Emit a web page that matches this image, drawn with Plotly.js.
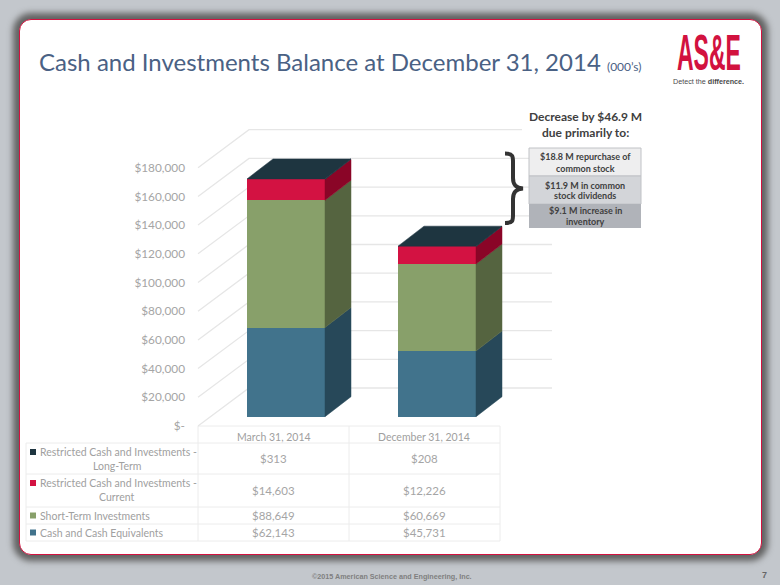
<!DOCTYPE html>
<html><head><meta charset="utf-8">
<script src="https://cdn.plot.ly/plotly-3.0.1.min.js"></script>
<style>
html,body{margin:0;padding:0;width:780px;height:585px;overflow:hidden;background:#c3c7cc}
#card{position:absolute;left:19px;top:19px;width:741px;height:534px;border:1.5px solid #d2123f;border-radius:12px;background:#fff;box-shadow:0 0 6px 6px #626262}
#chart{position:absolute;left:0;top:0;width:780px;height:585px}
</style></head><body>
<div id="card"></div><div id="chart"></div>
<script>
const periods = ["March 31, 2014", "December 31, 2014"];
const seriesNames = ["Cash and Cash Equivalents", "Short-Term Investments", "Restricted Cash and Investments - Current", "Restricted Cash and Investments - Long-Term"];
const cash = [62143, 45731];
const shortTerm = [88649, 60669];
const restrictedCurrent = [14603, 12226];
const restrictedLong = [313, 208];
const tickVals = [0,20000,40000,60000,80000,100000,120000,140000,160000,180000];
const tickText = ["$-","$20,000","$40,000","$60,000","$80,000","$100,000","$120,000","$140,000","$160,000","$180,000"];
const frontColors = ["#41738c","#88a06a","#d31242","#1e3540"];
const sideColors = ["#274859","#556440","#8a0527","#1e3540"];
const W=780,H=585;
const pxPerUnit = 0.001435;
const y0Wall = 426, yBarFront = 416.7;
const rangeAt = y => [(y-H)/pxPerUnit, y/pxPerUnit];
const plotLeft = 190;
const xRange = [(plotLeft-286)/151, (W-286)/151];
const barW = 78/151, depthX = 26/151, depthY = 20/pxPerUnit;
const wallDX = 51/151, wallDY = 38/pxPerUnit;
const wallLeft = (198-286)/151, wallRight = (501-286)/151;
const gridColor = "#e6e6e6";
const traces = [];
tickVals.forEach(v=>{
  traces.push({type:"scatter",mode:"lines",x:[wallLeft,wallLeft+wallDX,wallRight+wallDX],y:[v,v+wallDY,v+wallDY],
    line:{color:gridColor,width:1.3},hoverinfo:"skip",showlegend:false,xaxis:"x",yaxis:"y"});
});
const stacks=[cash,shortTerm,restrictedCurrent,restrictedLong];
[0,1].forEach(i=>{
  let b=0;
  stacks.forEach((s,k)=>{
    const t=b+s[i], r=i+barW/2;
    traces.push({type:"scatter",mode:"lines",x:[r,r+depthX,r+depthX,r,r],y:[b,b+depthY,t+depthY,t,b],fill:"toself",fillcolor:sideColors[k],
      line:{color:sideColors[k],width:0.5},hoverinfo:"skip",showlegend:false,xaxis:"x",yaxis:"y2"});
    b=t;
  });
  const l=i-barW/2,r=i+barW/2;
  traces.push({type:"scatter",mode:"lines",x:[l,r,r+depthX,l+depthX,l],y:[b,b,b+depthY,b+depthY,b],fill:"toself",fillcolor:"#1e3540",
    line:{color:"#1e3540",width:0.5},hoverinfo:"skip",showlegend:false,xaxis:"x",yaxis:"y2"});
});
stacks.forEach((s,k)=>traces.push({type:"bar",x:[0,1],y:s,width:barW,name:seriesNames[k],marker:{color:frontColors[k],line:{width:0}},xaxis:"x",yaxis:"y2",showlegend:false}));

const tableCols=[198,349,500], tableRows=[426,443,474,507,524,541], labelLeft=26;
const rowLabels=[["Restricted Cash and Investments -","Long-Term"],["Restricted Cash and Investments -","Current"],["Short-Term Investments"],["Cash and Cash Equivalents"]];
const rowVals=[restrictedLong,restrictedCurrent,shortTerm,cash];
const rowColors=[frontColors[3],frontColors[2],frontColors[1],frontColors[0]];
const fmt=v=>"$"+v.toLocaleString("en-US");
const shapes=[],ann=[];
const px=x=>x/W, py=y=>1-y/H;
const tline="#ececec";
const L=(x0,y0,x1,y1,c,w)=>shapes.push({type:"line",layer:"below",xref:"paper",yref:"paper",x0:px(x0),x1:px(x1),y0:py(y0),y1:py(y1),line:{color:c,width:w}});
const R=(x0,y0,x1,y1,c,lc)=>shapes.push({type:"rect",xref:"paper",yref:"paper",x0:px(x0),x1:px(x1),y0:py(y0),y1:py(y1),fillcolor:c,line:lc?{color:lc,width:1}:{width:0}});
const T=(x,y,t,o)=>ann.push(Object.assign({xref:"paper",yref:"paper",x:px(x),y:py(y),text:t,showarrow:false,xanchor:"center",yanchor:"middle",font:{family:"Lato",size:10.5,color:"#a0a0a0"}},o||{}));
tableRows.forEach((y,i)=>L(i==0?198:labelLeft,y,500,y,tline,1));
tableCols.forEach(x=>L(x,426,x,541,tline,1));
L(labelLeft,443,labelLeft,541,tline,1);
periods.forEach((p,i)=>T((tableCols[i]+tableCols[i+1])/2,436.5,p,{font:{family:"Lato",size:10.5,color:"#a0a0a0"}}));
rowLabels.forEach((lab,i)=>{
  const mid=(tableRows[i+1]+tableRows[i+2])/2;
  rowVals[i].forEach((_,c)=>T((tableCols[c]+tableCols[c+1])/2,mid,fmt(rowVals[i][c]),{font:{family:"Lato",size:11.5,color:"#a5a5a5"}}));
  if(lab.length==2){
    const y1=tableRows[i+1]+9, y2=tableRows[i+1]+23;
    R(30,y1-3,36,y1+3,rowColors[i]);
    T(38,y1,lab[0],{xanchor:"left"});
    T(117,y2,lab[1]);
  }else{
    R(30,mid-3,36,mid+3,rowColors[i]);
    T(38,mid,lab[0],{xanchor:"left"});
  }
});
T(37,62,'Cash and Investments Balance at December 31, 2014 <span style="font-size:12px">(000’s)</span>',{xanchor:"left",font:{family:"Lato",size:24,color:"#4a6184"}});
T(709,53,"AS&E",{font:{family:"Liberation Sans",size:23,color:"#d2123f",weight:700}});
T(708.5,81.5,'Detect the <b>difference.</b>',{font:{family:"Liberation Sans",size:7.2,color:"#4a4a4a"}});
R(522,108,645,146,"#fff");
R(529,148,641,176,"#eeeeef","#c0c2c6");
R(529,176,641,204,"#d3d5d9","#c0c2c6");
R(529,204,641,228,"#b0b3b9");
const hd={font:{family:"Lato",size:12,color:"#404040",weight:700}}, sm={font:{family:"Lato",size:9,color:"#404040",weight:700}};
T(585,117,"Decrease by $46.9 M",hd);
T(585,133,"due primarily to:",hd);
T(585,157,"$18.8 M repurchase of",sm);
T(585,168.5,"common stock",sm);
T(585,185,"$11.9 M in common",sm);
T(585,196,"stock dividends",sm);
T(585,210,"$9.1 M increase in",sm);
T(585,221.5,"inventory",sm);
shapes.push({type:"path",xref:"paper",yref:"paper",
  path:["M",px(505),py(153.5),"C",px(514),py(153.5),px(513),py(157),px(513),py(165),"L",px(513),py(178),"C",px(513),py(185),px(516),py(188),px(523),py(188.5),"C",px(516),py(189),px(513),py(192),px(513),py(199),"L",px(513),py(212),"C",px(513),py(220),px(514),py(223),px(505),py(223)].join(" "),
  line:{color:"#333",width:4}});
T(392,576.5,"©2015 American Science and Engineering, Inc.",{font:{family:"Liberation Sans",size:7.2,color:"#7f7f7f",weight:700}});
T(764,575,"7",{font:{family:"Liberation Sans",size:9,color:"#666",weight:700}});

const layout={width:W,height:H,margin:{l:0,r:0,t:0,b:0},paper_bgcolor:"rgba(0,0,0,0)",plot_bgcolor:"rgba(0,0,0,0)",
  barmode:"stack",bargap:0,showlegend:false,shapes,annotations:ann,
  xaxis:{range:xRange,visible:false,fixedrange:true,domain:[plotLeft/W,1]},
  yaxis:{range:rangeAt(y0Wall),tickvals:tickVals,ticktext:tickText,showgrid:false,zeroline:false,showline:false,ticks:"",
    tickfont:{family:"Lato",size:11.8,color:"#a5a5a5"},ticklabelstandoff:4,fixedrange:true,anchor:"x"},
  yaxis2:{range:rangeAt(yBarFront),overlaying:"y",visible:false,fixedrange:true}
};
Plotly.newPlot("chart",traces,layout,{displayModeBar:false,staticPlot:true}).then(gd=>{
  gd.querySelectorAll("text.annotation-text").forEach(el=>{
    if(el.textContent==="AS&E"){
      const b=el.getBBox(), cx=b.x+b.width/2, cy=b.y+b.height/2;
      el.setAttribute("transform",`translate(${cx} ${cy}) scale(1 2.15) translate(${-cx} ${-cy})`);
    }
  });
});
</script></body></html>
